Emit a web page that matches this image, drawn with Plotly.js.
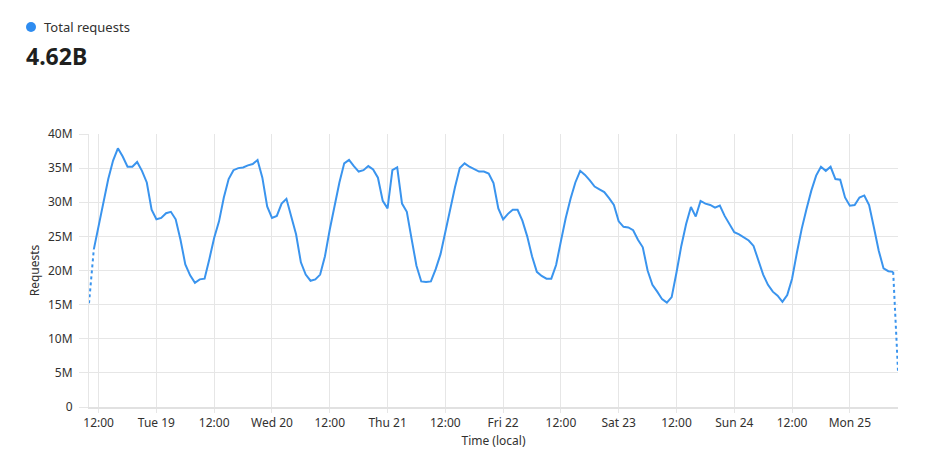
<!DOCTYPE html>
<html>
<head>
<meta charset="utf-8">
<script src="https://cdn.plot.ly/plotly-3.0.1.min.js"></script>
<style>
html,body{margin:0;padding:0;background:#fff;}
#chart{width:943px;height:466px;}
</style>
</head>
<body>
<div id="chart"></div>
<script>
// Hourly samples, Mon 18 10:00 to Mon 25 10:00 (local)
const startTime = '2023-09-18T10:00:00Z';
const requestsM = [
  15.2, 23.1, 26.5, 29.5, 33.4, 36.1, 37.9, 36.7, 35.2, 35.2,
  35.9, 34.6, 32.9, 28.9, 27.5, 27.7, 28.4, 28.6, 27.5, 24.5,
  20.9, 19.3, 18.2, 18.7, 18.8, 21.7, 24.8, 27.2, 30.7, 33.4,
  34.7, 35.0, 35.1, 35.4, 35.6, 36.2, 33.6, 29.4, 27.7, 28.0,
  29.8, 30.5, 28.0, 25.3, 21.2, 19.4, 18.5, 18.7, 19.4, 22.1,
  26.0, 29.5, 32.9, 35.7, 36.2, 35.3, 34.5, 34.7, 35.3, 34.8,
  33.6, 30.2, 29.1, 34.7, 35.1, 29.8, 28.6, 24.6, 20.7, 18.4,
  18.3, 18.4, 20.2, 22.4, 25.8, 29.0, 32.2, 35.0, 35.7, 35.2,
  34.9, 34.5, 34.5, 34.2, 32.8, 29.1, 27.5, 28.3, 28.9, 28.9,
  27.3, 25.0, 22.1, 19.8, 19.2, 18.8, 18.8, 20.8, 24.3, 27.7,
  30.5, 32.9, 34.6, 34.0, 33.2, 32.3, 31.9, 31.5, 30.6, 29.6,
  27.2, 26.4, 26.3, 25.9, 24.5, 23.4, 20.0, 17.9, 16.9, 15.8,
  15.3, 16.1, 19.7, 23.6, 26.8, 29.3, 27.9, 30.2, 29.8, 29.6,
  29.2, 29.5, 28.0, 26.7, 25.6, 25.3, 24.8, 24.4, 23.6, 21.4,
  19.4, 17.9, 16.9, 16.3, 15.4, 16.4, 18.8, 22.6, 26.1, 29.0,
  31.7, 33.9, 35.2, 34.6, 35.2, 33.4, 33.3, 30.7, 29.5, 29.6,
  30.7, 31.0, 29.6, 26.3, 22.9, 20.3, 19.9, 19.8, 5.3
];
const tickVals = [
  '2023-09-18 12:00','2023-09-19 00:00','2023-09-19 12:00','2023-09-20 00:00',
  '2023-09-20 12:00','2023-09-21 00:00','2023-09-21 12:00','2023-09-22 00:00',
  '2023-09-22 12:00','2023-09-23 00:00','2023-09-23 12:00','2023-09-24 00:00',
  '2023-09-24 12:00','2023-09-25 00:00'
];
const tickText = ['12:00','Tue 19','12:00','Wed 20','12:00','Thu 21','12:00','Fri 22','12:00','Sat 23','12:00','Sun 24','12:00','Mon 25'];
const seriesName = 'Total requests';
const totalLabel = '4.62B';

function fmt(d){
  const p = n => String(n).padStart(2,'0');
  return d.getUTCFullYear()+'-'+p(d.getUTCMonth()+1)+'-'+p(d.getUTCDate())+' '+p(d.getUTCHours())+':'+p(d.getUTCMinutes());
}
const t0 = new Date(startTime).getTime();
const times = requestsM.map((_, i) => fmt(new Date(t0 + i*3600000)));
const vals = requestsM.map(v => v*1e6);
const n = vals.length;

const color = '#3a94ee';
const font = "'Segoe UI', 'Noto Sans', sans-serif";
const txt = '#323130';

const traces = [
  {x: times.slice(0,2), y: vals.slice(0,2), mode:'lines', line:{color:color, width:2, dash:'dot'}, hoverinfo:'skip', showlegend:false},
  {x: times.slice(1,n-1), y: vals.slice(1,n-1), mode:'lines', line:{color:color, width:2}, name: seriesName, showlegend:false},
  {x: times.slice(n-2), y: vals.slice(n-2), mode:'lines', line:{color:color, width:2, dash:'dot'}, hoverinfo:'skip', showlegend:false}
];

const L=89, R=898, T=134, B=407;
const pw = R-L, ph = B-T;
const px = x => (x-L)/pw;
const py = y => (B-y)/ph;

const layout = {
  width:943, height:466,
  margin:{l:L, r:943-R, t:T, b:466-B, pad:0},
  paper_bgcolor:'#fff', plot_bgcolor:'#fff',
  font:{family:font, size:12, color:txt},
  showlegend:false,
  xaxis:{
    type:'date',
    range:[times[0], times[n-1]],
    tickvals: tickVals, ticktext: tickText,
    showgrid:true, gridcolor:'#e6e6e6', gridwidth:1,
    ticks:'outside', ticklen:4, tickcolor:'#e6e6e6',
    showline:true, linecolor:'#e1e1e1', linewidth:2,
    zeroline:false,
    tickfont:{family:font, size:12, color:txt},
    title:{text:'Time (local)', font:{family:font, size:12, color:txt}, standoff:6}
  },
  yaxis:{
    range:[0, 40e6],
    dtick:5e6, tick0:0,
    tickformat:'~s',
    showgrid:true, gridcolor:'#e6e6e6', gridwidth:1,
    ticks:'outside', ticklen:9, tickcolor:'#e6e6e6',
    showline:true, linecolor:'#e6e6e6', linewidth:1,
    zeroline:false,
    tickfont:{family:font, size:12, color:txt},
    ticklabelstandoff:4,
    title:{text:'Requests', font:{family:font, size:12, color:txt}, standoff:5}
  },
  shapes:[
    {type:'circle', xref:'paper', yref:'paper', xsizemode:'pixel', ysizemode:'pixel',
     xanchor: px(31), yanchor: py(27), x0:-5, x1:5, y0:-5, y1:5,
     fillcolor:'#2e8cf0', line:{width:0}}
  ],
  annotations:[
    {xref:'paper', yref:'paper', x:px(42), y:py(27), xanchor:'left', yanchor:'middle',
     text:seriesName, showarrow:false, font:{family:font, size:13, color:txt}},
    {xref:'paper', yref:'paper', x:px(24), y:py(56), xanchor:'left', yanchor:'middle',
     text:'<b>'+totalLabel+'</b>', showarrow:false, font:{family:font, size:23, color:'#201f1e'}}
  ]
};

Plotly.newPlot('chart', traces, layout, {staticPlot:true, displayModeBar:false});
</script>
</body>
</html>
